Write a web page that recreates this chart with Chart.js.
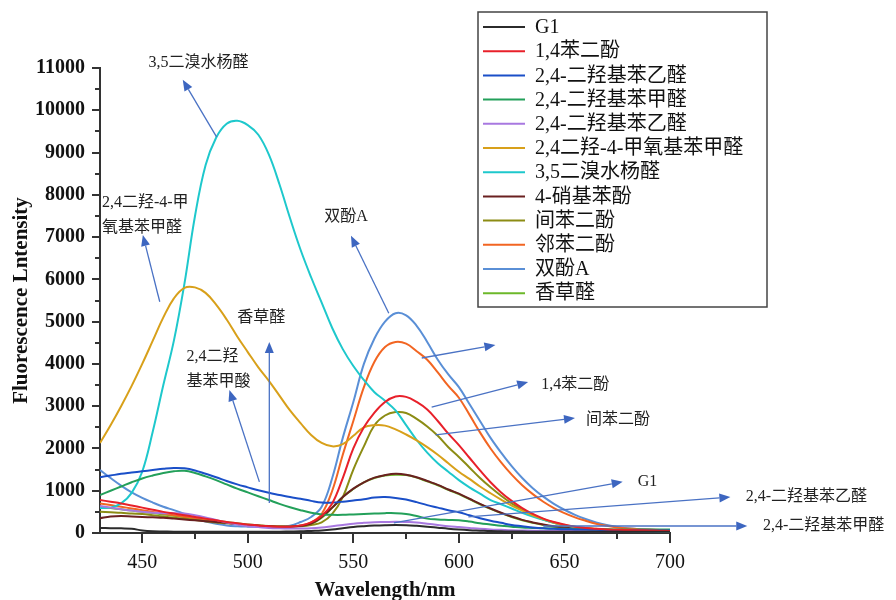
<!DOCTYPE html>
<html>
<head>
<meta charset="utf-8">
<script src="https://cdn.jsdelivr.net/npm/chart.js@4.4.1/dist/chart.umd.min.js"></script>
<style>
  html, body { margin: 0; padding: 0; background: #fff; }
  #chart { display: block; }
</style>
</head>
<body>
<canvas id="chart" width="896" height="600"></canvas>
<script>
// Fluorescence spectra, 430–700 nm, one reading every 5 nm.
const wavelengths = [
  430,435,440,445,450,455,460,465,470,475,
  480,485,490,495,500,505,510,515,520,525,
  530,535,540,545,550,555,560,565,570,575,
  580,585,590,595,600,605,610,615,620,625,
  630,635,640,645,650,655,660,665,670,675,
  680,685,690,695,700];

const g1 = [
  120,115,110,100,60,40,35,30,30,30,
  30,30,30,30,30,30,30,30,35,40,
  50,60,80,110,140,160,175,185,190,185,
  170,150,125,100,80,65,55,45,40,35,
  35,30,30,30,30,30,30,30,30,30,
  30,30,30,30,30];
const hydroquinone = [
  780,740,700,650,600,550,500,460,420,380,
  340,300,260,230,200,180,160,150,150,180,
  250,400,700,1300,2000,2500,2850,3100,3230,3220,
  3100,2920,2650,2350,2080,1780,1480,1200,960,760,
  590,450,340,260,200,150,120,100,85,75,
  70,65,60,55,50];
const dhAcetoA = [
  1320,1360,1400,1430,1460,1490,1520,1540,1530,1480,
  1400,1320,1230,1150,1080,1010,950,900,850,810,
  760,720,720,740,770,800,840,850,830,790,
  730,660,600,540,490,420,350,290,240,190,
  160,130,110,100,90,85,80,75,70,70,
  65,65,60,60,60];
const dhBenzaldehyde = [
  900,1000,1100,1200,1290,1360,1420,1460,1470,1420,
  1340,1250,1150,1050,960,870,780,690,610,540,
  480,440,430,430,440,450,460,470,470,450,
  400,340,320,310,300,270,230,200,170,150,
  130,120,110,105,100,95,90,90,85,85,
  80,80,80,80,80];
const dhAcetoB = [
  640,600,560,530,500,480,470,470,460,420,
  370,310,250,200,160,140,120,110,105,105,
  110,130,160,190,220,240,255,260,265,260,
  250,220,190,160,140,120,100,85,75,65,
  60,55,50,50,45,45,45,40,40,40,
  40,40,40,40,40];
const dhMethoxy = [
  2130,2550,3000,3480,4000,4550,5100,5550,5800,5810,
  5680,5400,5050,4650,4280,3920,3600,3250,2900,2600,
  2320,2130,2050,2100,2300,2500,2550,2540,2450,2330,
  2190,2030,1850,1650,1450,1280,1100,940,790,650,
  530,420,330,250,190,150,120,100,80,70,
  60,55,50,45,40];
const dibromoSal = [
  590,600,700,950,1450,2400,3500,4550,5900,7500,
  8700,9350,9680,9750,9650,9420,8950,8250,7450,6700,
  6050,5450,4850,4350,3950,3620,3330,3130,2900,2550,
  2200,1900,1650,1450,1250,1080,930,780,680,580,
  480,390,310,240,180,140,100,80,60,50,
  45,40,35,30,30];
const nitrophenol = [
  350,390,400,390,380,370,360,340,320,300,
  280,260,240,210,190,170,160,150,150,170,
  220,380,600,850,1050,1200,1310,1370,1400,1380,
  1320,1230,1140,1030,930,810,690,580,480,390,
  310,250,200,160,130,110,95,85,75,70,
  65,60,55,50,50];
const resorcinol = [
  500,490,480,460,450,420,390,360,340,310,
  280,250,230,210,190,175,165,155,150,160,
  190,250,450,850,1500,2050,2550,2780,2860,2840,
  2700,2520,2300,2030,1800,1550,1300,1080,880,700,
  550,420,320,240,180,140,110,90,80,70,
  65,60,55,50,50];
const catechol = [
  700,660,620,580,540,500,460,420,380,340,
  300,270,240,210,190,170,160,150,150,170,
  250,450,1000,1850,2650,3450,4050,4400,4520,4480,
  4300,4100,3800,3480,3200,2800,2380,2000,1670,1380,
  1130,920,740,590,470,370,290,220,170,130,
  105,90,80,70,60];
const bisphenolA = [
  1490,1300,1120,960,830,720,620,540,450,350,
  270,220,180,160,150,145,140,145,170,260,
  380,620,1300,2250,3100,4000,4600,5000,5200,5150,
  4900,4520,4100,3750,3450,3050,2650,2250,1900,1580,
  1300,1060,860,690,550,430,330,250,190,145,
  115,95,80,70,60];
const vanillin = [
  620,590,560,530,500,470,440,410,380,350,
  320,290,260,230,200,180,165,155,150,170,
  210,360,600,850,1040,1200,1300,1360,1380,1370,
  1310,1220,1130,1020,920,800,680,570,470,380,
  300,240,190,150,120,100,90,85,80,75,
  75,70,70,70,70];

const seriesNames = ['G1', '1,4苯二酚', '2,4-二羟基苯乙醛', '2,4-二羟基苯甲醛', '2,4-二羟基苯乙醛',
  '2,4二羟-4-甲氧基苯甲醛', '3,5二溴水杨醛', '4-硝基苯酚', '间苯二酚', '邻苯二酚', '双酚A', '香草醛'];
const seriesValues = [g1, hydroquinone, dhAcetoA, dhBenzaldehyde, dhAcetoB, dhMethoxy,
  dibromoSal, nitrophenol, resorcinol, catechol, bisphenolA, vanillin];
const seriesColors = ['#2b2b2b', '#e8202a', '#1a4fc8', '#23a05a', '#a878e0', '#d8a01a',
  '#1ec8cc', '#6a2020', '#8c8c14', '#f26522', '#5a8fd6', '#6cb82a'];

const xTicks = [450, 500, 550, 600, 650, 700];
const yTicks = [0, 1000, 2000, 3000, 4000, 5000, 6000, 7000, 8000, 9000, 10000, 11000];

// Arrow callouts, in data units: [wavelength, intensity]
const callouts = [
  { lines: ['3,5二溴水杨醛'], at: [476.7, 11120], align: 'center', from: [485.2, 9370], to: [469.2, 10720] },
  { lines: ['2,4二羟-4-甲', '氧基苯甲醛'], at: [430.9, 7810], align: 'left', from: [458.3, 5470], to: [450.3, 7050] },
  { lines: ['香草醛'], at: [506.4, 5090], align: 'center', from: [510.2, 710], to: [510.2, 4520] },
  { lines: ['2,4二羟', '基苯甲酸'], at: [471, 4160], align: 'left', from: [505.5, 1210], to: [491.3, 3380] },
  { lines: ['双酚A'], at: [546.5, 7480], align: 'center', from: [566.8, 5200], to: [548.9, 7030] },
  { lines: [], at: [0, 0], align: 'left', from: [582.4, 4140], to: [617.3, 4450] },
  { lines: ['1,4苯二酚'], at: [639, 3500], align: 'left', from: [587.1, 2980], to: [632.8, 3570] },
  { lines: ['间苯二酚'], at: [660.2, 2670], align: 'left', from: [589, 2320], to: [655, 2720] },
  { lines: ['G1'], at: [684.7, 1210], align: 'left', from: [569.2, 240], to: [677.6, 1210] },
  { lines: ['2,4-二羟基苯乙醛'], at: [735.9, 850], align: 'left', from: [604.5, 380], to: [728.6, 850] },
  { lines: ['2,4-二羟基苯甲醛'], at: [744, 166], align: 'left', from: [640, 166], to: [736.6, 166] },
];

const SERIF = '"Liberation Serif", "Noto Sans CJK SC", serif';

const datasets = seriesValues.map((vals, i) => ({
  label: seriesNames[i],
  data: vals.map((v, j) => ({ x: wavelengths[j], y: v })),
  borderColor: seriesColors[i],
  backgroundColor: seriesColors[i],
  borderWidth: 2,
  pointRadius: 0,
  tension: 0.4,
  fill: false,
}));

// Tick marks (major + minor), drawn outward from both axes.
const tickMarks = {
  id: 'tickMarks',
  afterDraw(chart) {
    const { ctx, chartArea: a, scales: { x, y } } = chart;
    ctx.save();
    ctx.strokeStyle = '#333';
    ctx.lineWidth = 2;
    ctx.beginPath();
    xTicks.forEach((v, i) => {
      const px = Math.round(x.getPixelForValue(v));
      ctx.moveTo(px, a.bottom); ctx.lineTo(px, a.bottom + 10);
      if (i > 0) {
        const mx = Math.round(x.getPixelForValue((v + xTicks[i - 1]) / 2));
        ctx.moveTo(mx, a.bottom); ctx.lineTo(mx, a.bottom + 6);
      }
    });
    yTicks.forEach((v, i) => {
      const py = Math.round(y.getPixelForValue(v));
      ctx.moveTo(a.left, py); ctx.lineTo(a.left - 8, py);
      if (i > 0) {
        const my = Math.round(y.getPixelForValue((v + yTicks[i - 1]) / 2));
        ctx.moveTo(a.left, my); ctx.lineTo(a.left - 5, my);
      }
    });
    ctx.stroke();
    ctx.restore();
  },
};

function drawArrow(ctx, x1, y1, x2, y2) {
  const ang = Math.atan2(y2 - y1, x2 - x1);
  const len = 11, half = 4.5;
  const bx = x2 - len * Math.cos(ang), by = y2 - len * Math.sin(ang);
  ctx.beginPath();
  ctx.moveTo(x1, y1); ctx.lineTo(bx, by);
  ctx.stroke();
  ctx.beginPath();
  ctx.moveTo(x2, y2);
  ctx.lineTo(bx + half * Math.sin(ang), by - half * Math.cos(ang));
  ctx.lineTo(bx - half * Math.sin(ang), by + half * Math.cos(ang));
  ctx.closePath();
  ctx.fill();
}

const calloutPlugin = {
  id: 'callouts',
  afterDraw(chart) {
    const { ctx, scales: { x, y } } = chart;
    ctx.save();
    ctx.strokeStyle = '#4a72c4';
    ctx.fillStyle = '#3d66c0';
    ctx.lineWidth = 1.3;
    callouts.forEach((c) => {
      drawArrow(ctx, x.getPixelForValue(c.from[0]), y.getPixelForValue(c.from[1]),
        x.getPixelForValue(c.to[0]), y.getPixelForValue(c.to[1]));
    });
    ctx.fillStyle = '#222';
    ctx.font = '16px ' + SERIF;
    ctx.textBaseline = 'middle';
    callouts.forEach((c) => {
      ctx.textAlign = c.align;
      const tx = x.getPixelForValue(c.at[0]);
      const ty = y.getPixelForValue(c.at[1]);
      c.lines.forEach((t, k) => ctx.fillText(t, tx, ty + k * 25));
    });
    ctx.restore();
  },
};

// Boxed legend in the upper right, partly above the plot.
const boxLegend = {
  id: 'boxLegend',
  afterDraw(chart) {
    const { ctx } = chart;
    const left = 478, top = 12, w = 289, h = 295, row = 24.2;
    ctx.save();
    ctx.fillStyle = '#fff';
    ctx.fillRect(left, top, w, h);
    ctx.strokeStyle = '#444';
    ctx.lineWidth = 1.5;
    ctx.strokeRect(left, top, w, h);
    ctx.font = '20px ' + SERIF;
    ctx.textBaseline = 'middle';
    ctx.textAlign = 'left';
    chart.data.datasets.forEach((ds, i) => {
      const cy = top + 15 + i * row;
      ctx.strokeStyle = ds.borderColor;
      ctx.lineWidth = 2;
      ctx.beginPath();
      ctx.moveTo(left + 5, cy); ctx.lineTo(left + 47, cy);
      ctx.stroke();
      ctx.fillStyle = '#111';
      ctx.fillText(ds.label, left + 57, cy + 1);
    });
    ctx.restore();
  },
};

new Chart(document.getElementById('chart'), {
  type: 'line',
  data: { datasets },
  plugins: [tickMarks, calloutPlugin, boxLegend],
  options: {
    responsive: false,
    animation: false,
    layout: { padding: { top: 68, right: 226, left: 0, bottom: 0 } },
    plugins: { legend: { display: false }, tooltip: { enabled: false } },
    scales: {
      x: {
        type: 'linear', min: 430, max: 700,
        afterBuildTicks: (s) => { s.ticks = xTicks.map((v) => ({ value: v })); },
        afterFit: (s) => { s.height = 67; },
        grid: { display: false, drawTicks: false },
        border: { display: true, color: '#333', width: 2 },
        ticks: { color: '#111', padding: 18, font: { family: SERIF, size: 20 }, maxRotation: 0,
          callback: (v) => String(v) },
        title: { display: true, text: 'Wavelength/nm', color: '#111',
          font: { family: SERIF, size: 21, weight: 'bold' }, padding: { top: 0, bottom: -3 } },
      },
      y: {
        min: 0, max: 11000,
        afterBuildTicks: (s) => { s.ticks = yTicks.map((v) => ({ value: v })); },
        afterFit: (s) => { s.width = 100; },
        grid: { display: false, drawTicks: false },
        border: { display: true, color: '#333', width: 2 },
        ticks: { color: '#111', padding: 15, font: { family: SERIF, size: 20, weight: 'bold' },
          callback: (v) => String(v) },
        title: { display: true, text: 'Fluorescence Lntensity', color: '#111',
          font: { family: SERIF, size: 21, weight: 'bold' }, padding: { top: 9, bottom: 0 } },
      },
    },
  },
});
</script>
</body>
</html>
